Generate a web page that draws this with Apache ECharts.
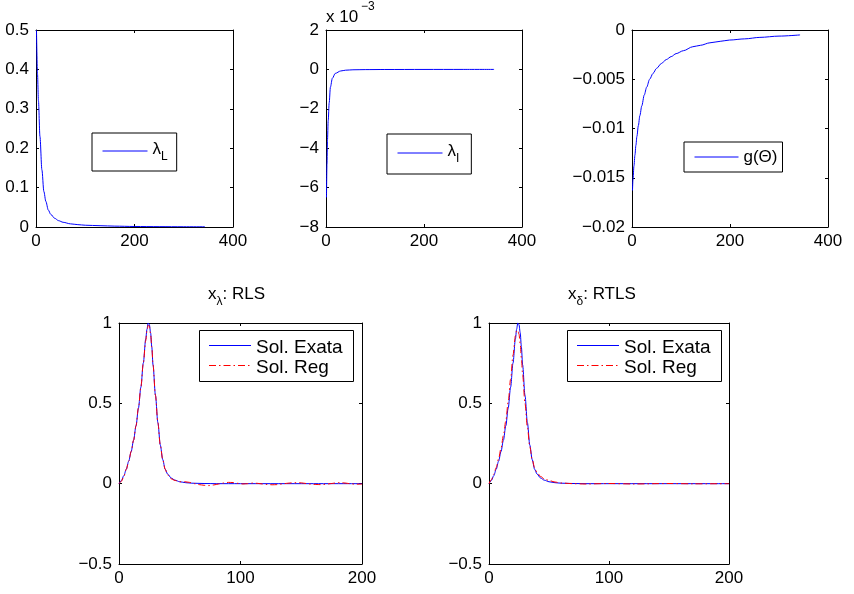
<!DOCTYPE html>
<html><head><meta charset="utf-8">
<script src="https://cdn.jsdelivr.net/npm/echarts@6/dist/echarts.min.js"></script>
<style>html,body{margin:0;padding:0;background:#fff}#c{width:854px;height:594px}</style>
</head><body><div id="c"></div>
<script>
const FONT = '"Liberation Sans", Arial, Helvetica, sans-serif';

// Panel 1: lambda_L
const lamL_x = [1,3,5,8,12,16,20,25,30,38,46,55,70,85,100,130,160,200,250,300,343];
const lamL_y = [0.5,0.39,0.32,0.23,0.145,0.09,0.065,0.043,0.032,0.022,0.016,0.012,0.008,0.006,0.0045,0.0033,0.0022,0.0013,0.0009,0.0006,0.0005];
// Panel 2: lambda_I
const lamI_x = [1,2,3,4.5,6.5,9,13,19,30,40,55,80,120,200,280,343];
const lamI_y = [-6.5e-3,-4.8e-3,-3.6e-3,-2.6e-3,-1.7e-3,-0.9e-3,-0.45e-3,-0.2e-3,-0.08e-3,-0.04e-3,-0.02e-3,-0.01e-3,-0.005e-3,-0.002e-3,-0.001e-3,-0.0005e-3];
// Panel 3: g(Theta)
const g_x = [1,2,4,6,8,10,13,16,20,25,30,36,43,50,60,70,80,90,105,124,140,159,180,199,230,261,300,343];
const g_y = [-0.0163,-0.0152,-0.0138,-0.0127,-0.0117,-0.0108,-0.0097,-0.0087,-0.0077,-0.0066,-0.0058,-0.0050,-0.0044,-0.0039,-0.0034,-0.0030,-0.0027,-0.0024,-0.0021,-0.0017,-0.00155,-0.0013,-0.00115,-0.00102,-0.0009,-0.00075,-0.00062,-0.0005];
// Bottom: exact solution
const ex_x = [0,2,4,6,8,10,12,14,16,18,20,22,23,24,25,26,27,28,30,32,34,36,38,40,43,46,50,55,60,70,80,100,150,200];
const ex_y = [0,0.02,0.05,0.09,0.14,0.2,0.27,0.36,0.47,0.6,0.75,0.9,0.96,1.0,0.99,0.94,0.85,0.74,0.55,0.38,0.24,0.15,0.09,0.06,0.035,0.022,0.012,0.006,0.003,0.001,0,0,0,0];
// Bottom-left: RLS regularized solution
const rls_x = [0,2,4,6,8,10,12,14,16,18,20,22,23,24,25,26,27,28,30,32,34,36,38,40,43,46,
  50,54,58,62,66,70,74,78,82,86,90,94,98,102,106,110,114,118,122,126,130,134,138,142,146,150,154,158,162,166,170,174,178,182,186,190,194,198,200];
const rls_y = [0,0.015,0.045,0.09,0.14,0.2,0.27,0.36,0.47,0.6,0.75,0.89,0.95,0.985,0.98,0.93,0.85,0.74,0.55,0.38,0.24,0.15,0.09,0.055,0.03,0.02,
  0.012,0.012,0.008,0.0,-0.006,-0.01,-0.012,-0.008,-0.002,0.004,0.008,0.007,0.002,-0.002,0.0,0.004,0.002,-0.002,-0.005,-0.007,-0.006,-0.002,0.002,0.005,0.006,0.005,0.001,-0.003,-0.005,-0.006,-0.004,0.0,0.004,0.006,0.004,0.0,-0.003,-0.003,-0.002];
// Bottom-right: RTLS regularized solution
const rt_x = [0,2,4,6,8,10,12,14,16,18,20,22,23,24,25,26,27,28,30,32,34,36,38,40,43,46,50,55,60,70,80,100,120,150,170,200];
const rt_y = [0,0.025,0.06,0.1,0.155,0.22,0.3,0.39,0.51,0.65,0.8,0.92,0.95,0.955,0.93,0.87,0.78,0.68,0.5,0.35,0.23,0.15,0.1,0.07,0.045,0.03,0.02,0.01,0.004,0,-0.002,0.001,-0.002,0.001,-0.001,0];

const xTicks = [[0,400,200],[0,400,200],[0,400,200],[0,200,100],[0,200,100]];
const yTicks = [[0,0.5,0.1],[-0.008,0.002,0.002],[-0.02,0,0.005],[-0.5,1,0.5],[-0.5,1,0.5]];

function pairs(xs, ys){ return xs.map((x,i)=>[x, ys[i]]); }
function minus(s){ return String(s).replace('-', '\u2212'); }
function fmt(v){ return minus(parseFloat(v.toFixed(6))); }
const yFmt = [fmt, v => minus(Math.round(v*1000)), fmt, fmt, fmt];

const grids = [
  {left:36, top:30, width:197, height:197},
  {left:326, top:30, width:196, height:197},
  {left:632, top:30, width:196, height:197},
  {left:119, top:323, width:243, height:241},
  {left:489, top:323, width:240, height:241}
];

const lineSt = {show:true, onZero:false, lineStyle:{color:'#000', width:1}};
const tickSt = {show:true, inside:true, length:3, lineStyle:{color:'#000', width:1}};
const labelSt = {color:'#000', fontSize:17, fontFamily:FONT};

const xAxis = [], yAxis = [];
grids.forEach((g, i) => {
  const [xmin,xmax,xint] = xTicks[i];
  const [ymin,ymax,yint] = yTicks[i];
  xAxis.push({gridIndex:i, type:'value', position:'bottom', min:xmin, max:xmax, interval:xint,
    axisLine:lineSt, axisTick:tickSt, splitLine:{show:false},
    axisLabel:Object.assign({margin:6, formatter: fmt}, labelSt)});
  xAxis.push({gridIndex:i, type:'value', position:'top', min:xmin, max:xmax, interval:xint,
    axisLine:lineSt, axisTick:tickSt, splitLine:{show:false}, axisLabel:{show:false}});
  yAxis.push({gridIndex:i, type:'value', position:'left', min:ymin, max:ymax, interval:yint,
    axisLine:lineSt, axisTick:tickSt, splitLine:{show:false},
    axisLabel:Object.assign({margin:7, formatter: yFmt[i]}, labelSt)});
  yAxis.push({gridIndex:i, type:'value', position:'right', min:ymin, max:ymax, interval:yint,
    axisLine:lineSt, axisTick:tickSt, splitLine:{show:false}, axisLabel:{show:false}});
});

const BLUE = '#0000ff', RED = '#ff0000';
const DASHDOT = [7,3,1.5,3];
function ser(name, i, xs, ys, color, dash, z){
  return {name:name, type:'line', xAxisIndex:2*i, yAxisIndex:2*i, data:pairs(xs, ys),
    symbol:'none', smooth:0.3, smoothMonotone:'x', animation:false, z:z||2,
    lineStyle:{color:color, width:1, type:dash||'solid'}, itemStyle:{color:color}};
}
const series = [
  ser('lamL', 0, lamL_x, lamL_y, BLUE),
  ser('lamI', 1, lamI_x, lamI_y, BLUE),
  ser('g(\u0398)', 2, g_x, g_y, BLUE),
  ser('Sol. Exata', 3, ex_x, ex_y, BLUE, 'solid', 2),
  ser('Sol. Reg', 3, rls_x, rls_y, RED, DASHDOT, 3),
  ser('Sol. Exata ', 4, ex_x, ex_y, BLUE, 'solid', 2),
  ser('Sol. Reg ', 4, rt_x, rt_y, RED, DASHDOT, 3)
];

const subRich = {
  a:{fontSize:17, lineHeight:20, verticalAlign:'top', fontFamily:FONT, fontWeight:'normal', color:'#000'},
  s:{fontSize:12, lineHeight:12, padding:[10,0,0,0], verticalAlign:'top', fontFamily:FONT, fontWeight:'normal', color:'#000'}
};
const legBase = {orient:'horizontal', itemWidth:45, itemHeight:14, borderColor:'#000', borderWidth:1,
  backgroundColor:'#fff', borderRadius:0, selectedMode:false, lineStyle:{width:1},
  itemStyle:{opacity:0, borderWidth:0}};
// bottom legends: one single-entry legend per row (text), key strokes drawn as legend decoration
function rowLegend(name, left, top){
  return Object.assign({}, legBase, {data:[name], left:left, top:top, padding:0, itemWidth:42,
    icon:'none', lineStyle:{width:1, opacity:0},
    borderWidth:0, backgroundColor:'transparent', formatter: n => n.trim(),
    textStyle:{fontSize:19, lineHeight:19, fontFamily:FONT, color:'#000'}});
}
const legend = [
  Object.assign({}, legBase, {data:['lamL'], left:92, top:133, padding:[8,9,8,10],
    formatter:()=>'{a|\u03bb}{s|L}', textStyle:{rich:subRich, fontSize:17, fontFamily:FONT, color:'#000'}}),
  Object.assign({}, legBase, {data:['lamI'], left:387, top:134, padding:[9,12,9,10],
    formatter:()=>'{a|\u03bb}{s|I}', textStyle:{rich:subRich, fontSize:17, fontFamily:FONT, color:'#000'}}),
  Object.assign({}, legBase, {data:['g(\u0398)'], left:684, top:142, padding:[6,5,6,10], itemWidth:44,
    textStyle:{fontSize:17, lineHeight:18, fontFamily:FONT, color:'#000'}}),
  rowLegend('Sol. Exata', 209, 338),
  rowLegend('Sol. Reg', 209, 358),
  rowLegend('Sol. Exata ', 577, 338),
  rowLegend('Sol. Reg ', 577, 358)
];

const title = [
  {text:'{a|x}{s|\u03bb}{a|: RLS}', left:208, top:286, padding:0, textStyle:{rich:subRich, fontWeight:'normal'}},
  {text:'{a|x}{s|\u03b4}{a|: RTLS}', left:568, top:286, padding:0, textStyle:{rich:subRich, fontWeight:'normal'}}
];

function keyLine(x, y, color, dash){
  return {type:'line', z:100, shape:{x1:x, y1:y, x2:x+42, y2:y},
    style:{stroke:color, lineWidth:1, lineDash: dash || null}};
}
const graphic = [
  {type:'text', left:326, top:9, style:{text:'x 10', fontSize:17, fontFamily:FONT, fill:'#000'}},
  {type:'text', left:361, top:1, style:{text:'\u22123', fontSize:12, fontFamily:FONT, fill:'#000'}},
  {type:'rect', z:3, shape:{x:199.5, y:330.5, width:154, height:51}, style:{fill:'#fff', stroke:'#000', lineWidth:1}},
  {type:'rect', z:3, shape:{x:567.5, y:330.5, width:154, height:51}, style:{fill:'#fff', stroke:'#000', lineWidth:1}},
  keyLine(209, 345.5, BLUE),
  keyLine(209, 365.5, RED, DASHDOT),
  keyLine(577, 345.5, BLUE),
  keyLine(577, 365.5, RED, DASHDOT)
];

const chart = echarts.init(document.getElementById('c'), null, {renderer:'canvas'});
chart.setOption({
  backgroundColor:'#fff', animation:false,
  grid:grids, xAxis:xAxis, yAxis:yAxis, series:series, legend:legend, title:title, graphic:graphic
});
</script></body></html>
